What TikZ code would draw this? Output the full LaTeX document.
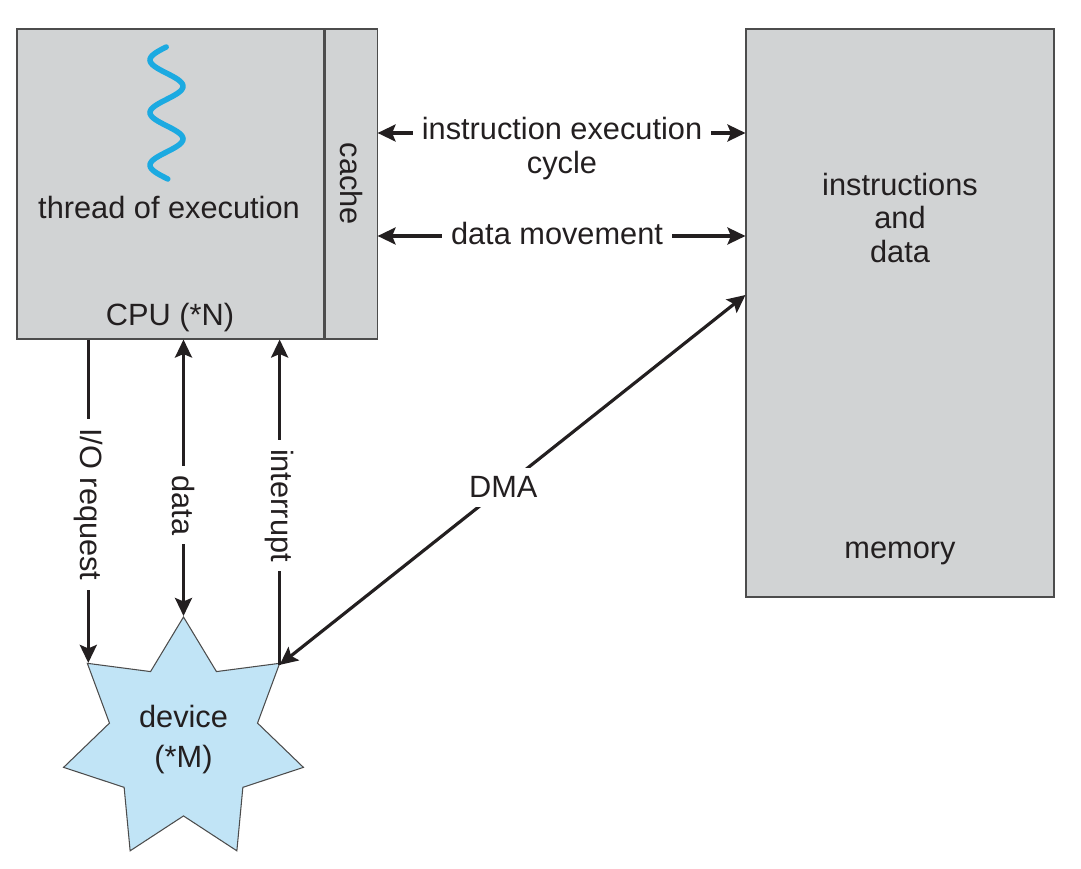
\documentclass[tikz,border=0pt]{standalone}
\usepackage{fontspec}
\setmainfont{Liberation Sans}
\usetikzlibrary{arrows.meta,positioning,shapes.geometric}
\definecolor{boxgray}{RGB}{209,211,212}
\definecolor{devblue}{RGB}{193,228,246}
\definecolor{wireblue}{RGB}{28,170,225}
\definecolor{inkdark}{RGB}{35,31,32}
\tikzset{
  box/.style={draw=black!70, line width=0.6pt, fill=boxgray, inner sep=0pt},
  arr/.style={line width=1.8pt, draw=inkdark, >={Stealth[length=3.6mm,width=3.4mm,inset=0.7mm]}},
  gap/.style={fill=white, inner sep=1.8mm},
}
\begin{document}
\begin{tikzpicture}[x=0.2mm, y=-0.2mm,
    every node/.style={text=inkdark, font=\fontsize{17.5}{19.5}\selectfont}]
  %%%%% frame %%%%%
  \useasboundingbox (0,0) rectangle (1081,869);

  %%%%% CPU and cache %%%%%
  \node[box, minimum width=61.4mm, minimum height=62mm] (cpu) at (170.5,184) {};
  \node[box, minimum width=10.4mm, minimum height=62mm, right=0pt of cpu] (cache) {};
  \node[rotate=-90] (cachelbl) at (cache) {cache};
  \draw[wireblue, line width=1.1mm, line cap=round]
    plot[domain=47:179, samples=90, smooth] ({166.5-16.5*cos(6.844*(\x-60))}, \x);
  \node (thread) at (169,208) {thread of execution};
  \node (cpulbl) at (170,318) {CPU (*N)};

  %%%%% memory %%%%%
  \node[box, minimum width=61.6mm, minimum height=113.6mm] (memory) at (900,313) {};
  \node[align=center, font=\fontsize{17.5}{19.2}\selectfont] (instr) at (900,218) {instructions\\and\\data};
  \node (memlbl) at (900,553) {memory};

  %%%%% device %%%%%
  \node[shape=star, star points=7, star point ratio=1.62, minimum size=49.2mm, inner sep=0pt,
        fill=devblue, draw=black!70, line width=0.6pt, align=center,
        font=\fontsize{17.5}{22.8}\selectfont] (device) at (183.5,740) {device\\(*M)};

  %%%%% CPU <-> memory %%%%%
  \coordinate (cyc) at (562,133);
  \coordinate (mov) at (557,236);
  \draw[arr, <->] (cache.east |- cyc) -- (memory.west |- cyc);
  \node[gap, align=center, anchor=base] (cyclbl) at (562,174) {instruction execution\\cycle};
  \draw[arr, <->] (cache.east |- mov) -- (memory.west |- mov);
  \node[gap, anchor=base] (movlbl) at (557,245) {data movement};

  %%%%% CPU <-> device %%%%%
  \draw[arr, ->] (cpu.south -| device.141.43) -- node[gap, rotate=-90, pos=0.51] {I/O request} (device.141.43);
  \draw[arr, <->] (cpu.south -| device.90) -- node[gap, rotate=-90, pos=0.6] {data} (device.90);
  \draw[arr, ->] (device.38.57) -- node[gap, rotate=-90, pos=0.49] {interrupt} (cpu.south -| device.38.57);

  %%%%% DMA %%%%%
  \coordinate (dmaend) at (746,295);
  \draw[arr, <->] (device.38.57) -- node[gap, pos=0.48] {DMA} (memory.west |- dmaend);
\end{tikzpicture}
\end{document}
